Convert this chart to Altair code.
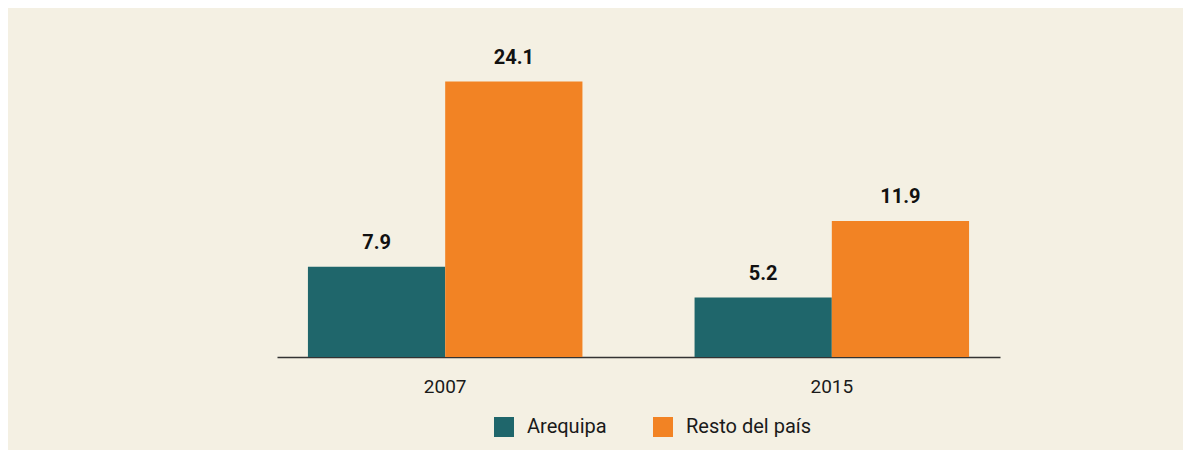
import altair as alt
import pandas as pd

years = ["2007", "2007", "2015", "2015"]
groups = ["Arequipa", "Resto del país", "Arequipa", "Resto del país"]
values = [7.9, 24.1, 5.2, 11.9]
series = ["Arequipa", "Resto del país"]
colors = ["#1F666B", "#F28324"]

df = pd.DataFrame({"year": years, "group": groups, "value": values})
df["label"] = df["value"].map(lambda v: f"{v:.1f}")

FONT = "Roboto"

base = alt.Chart(df).encode(
    x=alt.X("year:N", title=None,
            scale=alt.Scale(paddingInner=0.29, paddingOuter=0.08),
            axis=alt.Axis(labelAngle=0, ticks=False, labelPadding=20,
                          labelFontSize=19, labelFont=FONT, labelColor="#1a1a1a",
                          domainColor="#333333", domainWidth=1.5, grid=False)),
    xOffset=alt.XOffset("group:N", scale=alt.Scale(paddingInner=0, paddingOuter=0),
                        sort=series),
)

bars = base.mark_bar().encode(
    y=alt.Y("value:Q", scale=alt.Scale(domain=[0, 28]), axis=None),
    color=alt.Color("group:N", sort=series,
                    scale=alt.Scale(domain=series, range=colors),
                    legend=alt.Legend(title=None, orient="none", direction="horizontal",
                                      legendX=217, legendY=380, padding=0,
                                      symbolType="square", symbolSize=400,
                                      symbolStrokeWidth=0, symbolOpacity=1,
                                      labelFontSize=20, labelFont=FONT,
                                      labelColor="#1a1a1a", labelOffset=13,
                                      columnPadding=46)),
)

labels = base.mark_text(dy=-14, baseline="bottom", fontSize=20, fontWeight="bold",
                        font=FONT, color="#111111").encode(
    y=alt.Y("value:Q"),
    text="label:N",
)

chart = alt.layer(bars, labels).properties(
    width=723, height=320,
    background="#F4F0E3",
    padding={"left": 269, "top": 29, "right": 183, "bottom": 93},
    autosize=alt.AutoSizeParams(type="none"),
).configure_view(stroke=None)

chart.save("out.html", embed_options={"renderer": "svg", "actions": False})
